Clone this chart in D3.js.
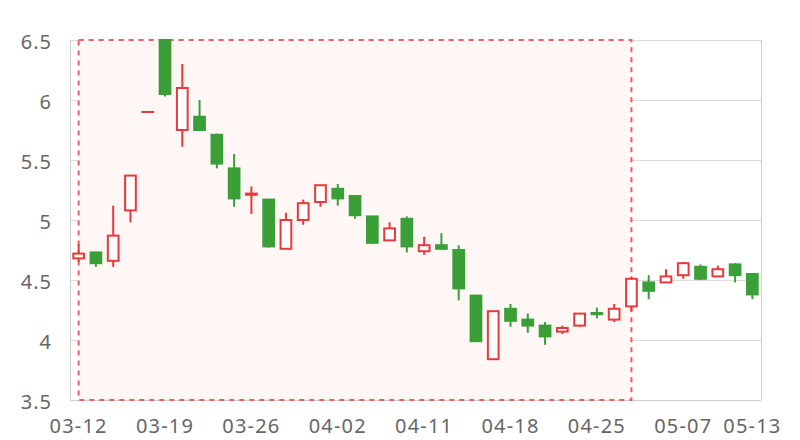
<!DOCTYPE html>
<html>
<head>
<meta charset="utf-8">
<script src="https://cdn.jsdelivr.net/npm/d3@7/dist/d3.min.js"></script>
<style>
html,body{margin:0;padding:0;background:#fff;}
svg{display:block;}
</style>
</head>
<body>
<svg id="chart" width="800" height="440"></svg>
<script>
const dates = ["03-12","03-13","03-14","03-15","03-18","03-19","03-20","03-21","03-22","03-25",
  "03-26","03-27","03-28","03-29","04-01","04-02","04-03","04-08","04-09","04-10",
  "04-11","04-12","04-15","04-16","04-17","04-18","04-19","04-22","04-23","04-24",
  "04-25","04-26","04-29","04-30","05-06","05-07","05-08","05-09","05-10","05-13"];
const open  = [4.68,4.73,4.66,5.08,5.90,6.50,5.75,5.86,5.71,5.43,
  5.21,5.17,4.76,5.00,5.15,5.26,5.20,5.03,4.83,5.01,
  4.74,4.79,4.75,4.37,3.84,4.26,4.17,4.12,4.07,4.12,
  4.225,4.17,4.28,4.48,4.48,4.54,4.61,4.53,4.63,4.55];
const close = [4.72,4.64,4.87,5.37,5.90,6.05,6.10,5.75,5.47,5.18,
  5.22,4.78,5.00,5.14,5.29,5.18,5.04,4.81,4.93,4.78,
  4.79,4.76,4.43,3.99,4.24,4.16,4.12,4.03,4.10,4.22,
  4.215,4.26,4.51,4.41,4.53,4.64,4.51,4.59,4.54,4.38];
const high  = [4.80,4.73,5.12,5.37,5.90,6.50,6.30,6.00,5.72,5.55,
  5.28,5.17,5.06,5.17,5.29,5.30,5.20,5.03,4.98,5.03,
  4.86,4.89,4.79,4.37,4.24,4.30,4.22,4.15,4.12,4.22,
  4.27,4.30,4.53,4.54,4.59,4.65,4.63,4.62,4.64,4.55];
const low   = [4.65,4.61,4.61,4.98,5.90,6.03,5.61,5.75,5.43,5.11,
  5.05,4.77,4.76,4.96,5.11,5.12,5.01,4.80,4.83,4.73,
  4.71,4.76,4.33,3.99,3.84,4.11,4.06,3.96,4.05,4.11,
  4.18,4.15,4.24,4.34,4.48,4.51,4.50,4.53,4.48,4.34];
const yTicks = [3.5,4,4.5,5,5.5,6,6.5];
const xTickLabels = ["03-12","03-19","03-26","04-02","04-11","04-18","04-25","05-07","05-13"];
const markStart = "03-12", markEnd = "04-29";

const W = 800, H = 440;
const m = {left:70, right:39, top:40, bottom:40};
const RED = "#e8393c", GREEN = "#3a9f37";
const svg = d3.select("#chart");

const x = d3.scaleBand().domain(dates).range([m.left, W - m.right]).paddingInner(0).paddingOuter(0);
const y = d3.scaleLinear().domain([3.5, 6.5]).range([H - m.bottom, m.top]);
const cx = d => x(d) + x.bandwidth() / 2;

// grid lines
svg.append("g").selectAll("line").data(yTicks).join("line")
  .attr("x1", m.left).attr("x2", W - m.right)
  .attr("y1", d => y(d)).attr("y2", d => y(d))
  .attr("stroke", "#dcdcdc").attr("stroke-width", 1).attr("shape-rendering","crispEdges");

// mark area
const ma = svg.append("g");
ma.append("rect")
  .attr("x", cx(markStart)).attr("y", y(6.5))
  .attr("width", cx(markEnd) - cx(markStart)).attr("height", y(3.5) - y(6.5))
  .attr("fill", "#fff6f6");

// frame lines
svg.append("line").attr("x1", m.left).attr("x2", m.left).attr("y1", y(6.5)).attr("y2", y(3.5))
  .attr("stroke", "#cfcfcf").attr("shape-rendering","crispEdges");
svg.append("line").attr("x1", W - m.right).attr("x2", W - m.right).attr("y1", y(6.5)).attr("y2", y(3.5))
  .attr("stroke", "#cfcfcf").attr("shape-rendering","crispEdges");
svg.append("line").attr("x1", m.left).attr("x2", W - m.right).attr("y1", y(3.5)).attr("y2", y(3.5))
  .attr("stroke", "#cfcfcf").attr("shape-rendering","crispEdges");

ma.append("rect")
  .attr("x", cx(markStart)).attr("y", y(6.5))
  .attr("width", cx(markEnd) - cx(markStart)).attr("height", y(3.5) - y(6.5))
  .attr("fill", "none").attr("stroke", "#ef5b5e")
  .attr("stroke-width", 2).attr("stroke-dasharray", "5,5");
ma.raise();

// candles
const data = dates.map((d, i) => ({d, o: open[i], c: close[i], h: high[i], l: low[i]}));
const defs = svg.append("defs");
defs.append("clipPath").attr("id", "clip").append("rect")
  .attr("x", m.left).attr("y", m.top - 1).attr("width", W - m.left - m.right).attr("height", H - m.top - m.bottom + 2);
const bw = x.bandwidth() * 0.62;
const cg = svg.append("g").attr("clip-path", "url(#clip)");
const g = cg.selectAll("g.c").data(data).join("g").attr("class", "c");
g.append("line")
  .attr("x1", d => cx(d.d)).attr("x2", d => cx(d.d))
  .attr("y1", d => y(d.h)).attr("y2", d => y(d.l))
  .attr("stroke", d => d.c >= d.o ? RED : GREEN).attr("stroke-width", 2);
g.append("rect")
  .attr("x", d => cx(d.d) - bw / 2)
  .attr("y", d => y(Math.max(d.o, d.c)))
  .attr("width", bw)
  .attr("height", d => Math.max(0.01, Math.abs(y(d.o) - y(d.c))))
  .attr("fill", d => d.c >= d.o ? "#fff" : GREEN)
  .attr("stroke", d => d.c >= d.o ? RED : GREEN)
  .attr("stroke-width", 2);

// axes
const font = "'Noto Sans', 'Open Sans', sans-serif";
const ya = svg.append("g").attr("transform", `translate(${m.left},0)`)
  .call(d3.axisLeft(y).tickValues(yTicks).tickSize(0).tickPadding(18).tickFormat(d3.format("")));
ya.select(".domain").remove();
ya.selectAll("text").attr("font-family", font).attr("font-size", 20).attr("fill", "#666")
  .attr("dy", "0.42em").attr("letter-spacing", "1px");

const xa = svg.append("g").attr("transform", `translate(0,${H - m.bottom})`)
  .call(d3.axisBottom(x).tickValues(xTickLabels).tickSize(0).tickPadding(19));
xa.select(".domain").remove();
xa.selectAll("text").attr("font-family", font).attr("font-size", 20).attr("fill", "#666")
  .attr("letter-spacing", "1.2px");
</script>
</body>
</html>
